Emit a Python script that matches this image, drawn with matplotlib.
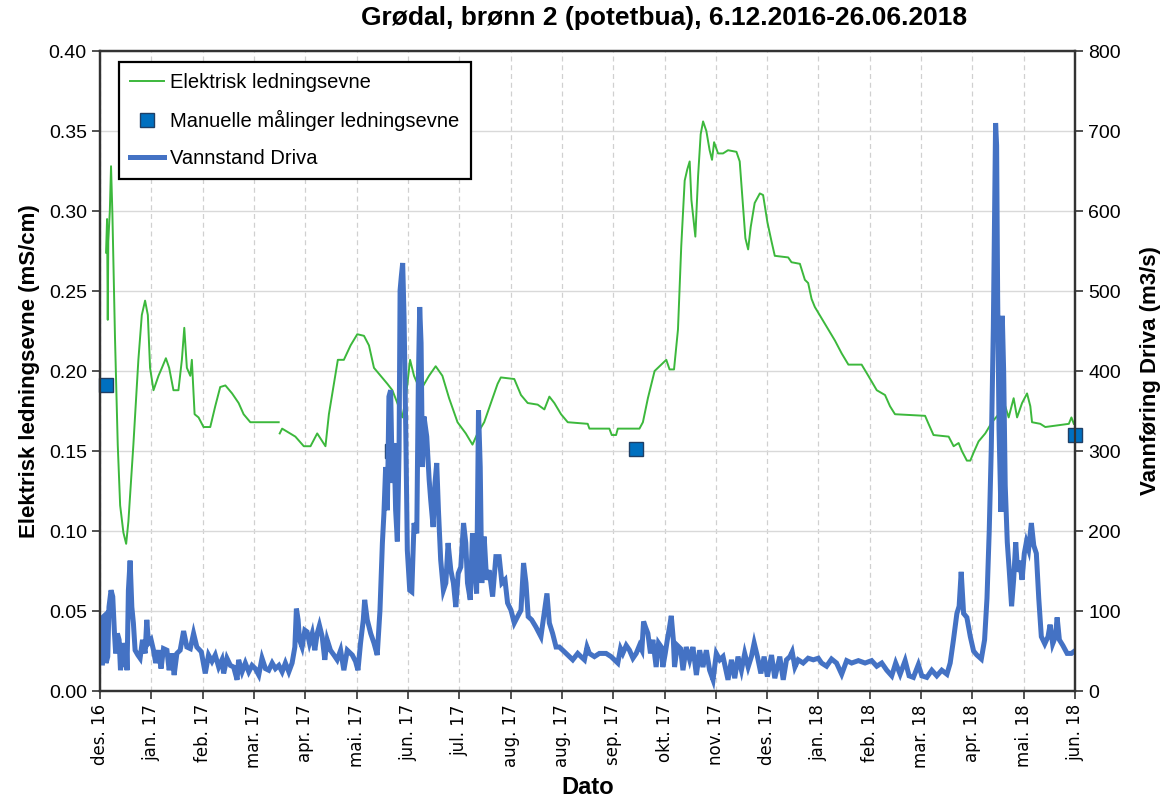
import numpy as np
import pandas as pd
import matplotlib
matplotlib.use("Agg")
import matplotlib.pyplot as plt
from matplotlib.lines import Line2D

# Dager etter 6.12.2016 (lest av figuren)
start = pd.Timestamp("2016-12-06")
slutt_dag = 567  # 26.06.2018

# Elektrisk ledningsevne (mS/cm), NaN = hull i dataserien
ec_dag = [3.5, 4.1, 4.5, 4.8, 5.7, 6.4, 7.2, 8.7, 10.3, 11.7, 13.6, 15.2, 16.5, 19.4, 22.3, 24.3,
          26.2, 27.8, 29.1, 31.1, 34.0, 36.0, 38.3, 40.2, 42.7, 45.6, 47.6, 49.0, 50.5, 52.5, 53.4,
          55.0, 57.3, 60.2, 64.1, 67.0, 69.9, 72.9, 76.8, 80.6, 83.5, 87.4, 103.9, 104.2,
          104.5, 105.9, 113.6, 118.5, 122.4, 126.3, 131.1, 133.1, 136.0, 138.3, 141.8, 145.7,
          149.6, 153.5, 156.4, 159.3, 163.2, 167.1, 170.0, 172.9, 175.8, 177.8, 180.3, 182.6,
          184.6, 187.5, 191.3, 195.2, 199.1, 203.0, 207.9, 212.7, 216.6, 219.5, 223.4, 227.3,
          231.2, 233.1, 240.9, 244.8, 248.7, 254.5, 258.4, 261.3, 264.2, 268.1, 272.0, 283.6,
          284.6, 296.2, 297.6, 300.1, 301.1, 313.7, 315.7, 318.6, 322.5, 326.4, 329.3, 331.2,
          333.8, 336.1, 338.0, 340.0, 341.5, 342.9, 343.9, 346.2, 347.8, 349.3, 350.7, 352.6,
          354.5, 355.9, 357.1, 359.4, 362.3, 365.2, 370.1, 372.0, 374.0, 375.3, 376.9, 378.4,
          380.7, 383.7, 385.6, 388.1, 390.5, 392.4, 400.2, 402.1, 407.0, 409.9, 411.8, 413.8,
          415.7, 419.6, 423.5, 427.4, 431.3, 435.2, 442.9, 446.8, 451.7, 456.5, 459.4, 462.3,
          479.8, 481.8, 484.7, 493.5, 496.4, 499.3, 501.2, 504.1, 506.1, 508.0, 510.9, 514.8,
          518.7, 522.6, 526.4, 528.4, 531.3, 533.3, 536.2, 539.1, 541.0, 542.0, 546.8, 549.7,
          563.4, 564.9, 566.3]
ec_verdi = [0.274, 0.295, 0.232, 0.281, 0.300, 0.328, 0.298, 0.221, 0.154, 0.116, 0.099, 0.092,
            0.106, 0.154, 0.207, 0.235, 0.244, 0.235, 0.202, 0.188, 0.197, 0.202, 0.208, 0.202,
            0.188, 0.188, 0.207, 0.227, 0.202, 0.197, 0.207, 0.173, 0.171, 0.165, 0.165, 0.178,
            0.190, 0.191, 0.186, 0.180, 0.173, 0.168, 0.168, np.nan,
            0.161, 0.164, 0.159, 0.153, 0.153, 0.161, 0.153, 0.173, 0.192, 0.207, 0.207, 0.216,
            0.223, 0.222, 0.216, 0.202, 0.197, 0.192, 0.188, 0.180, 0.171, 0.183, 0.207, 0.197,
            0.192, 0.190, 0.197, 0.203, 0.197, 0.183, 0.168, 0.161, 0.154, 0.161, 0.168, 0.180,
            0.192, 0.196, 0.195, 0.185, 0.180, 0.179, 0.176, 0.184, 0.180, 0.173, 0.168, 0.167,
            0.164, 0.164, 0.160, 0.160, 0.164, 0.164, 0.168, 0.183, 0.200, 0.204, 0.207, 0.201,
            0.201, 0.226, 0.278, 0.319, 0.326, 0.331, 0.307, 0.284, 0.322, 0.348, 0.356, 0.350,
            0.338, 0.332, 0.343, 0.336, 0.336, 0.338, 0.337, 0.331, 0.302, 0.283, 0.276, 0.290,
            0.305, 0.311, 0.310, 0.293, 0.281, 0.272, 0.271, 0.268, 0.267, 0.257, 0.255, 0.245,
            0.240, 0.233, 0.226, 0.219, 0.211, 0.204, 0.204, 0.197, 0.188, 0.185, 0.178, 0.173,
            0.172, 0.167, 0.160, 0.159, 0.153, 0.155, 0.150, 0.144, 0.144, 0.149, 0.156, 0.161,
            0.168, 0.173, 0.178, 0.171, 0.183, 0.171, 0.180, 0.186, 0.178, 0.168, 0.167, 0.165,
            0.167, 0.171, 0.167]

# Manuelle målinger ledningsevne
man_dag = [3.5, 169.6, 311.8, 567.0]
man_verdi = [0.191, 0.150, 0.151, 0.160]

# Vannføring Driva (m3/s)
q_dag = [1.4, 2.0, 3.0, 3.5, 4.5, 5.2, 6.4, 7.4, 8.4, 9.1, 10.1, 11.1, 11.9, 13.0, 14.2, 15.2,
         15.7, 16.5, 17.5, 18.5, 19.4, 20.4, 22.0, 23.3, 24.7, 26.2, 27.2, 28.2, 29.7, 31.1, 32.4,
         34.0, 35.5, 36.9, 38.9, 40.2, 41.8, 43.1, 44.7, 46.6, 48.6, 50.5, 52.5, 54.4, 56.3, 58.9,
         61.2, 63.1, 65.1, 67.0, 69.0, 70.9, 71.9, 73.8, 75.8, 77.7, 79.7, 80.6, 82.6, 84.5, 86.5,
         88.4, 90.3, 92.3, 94.2, 96.2, 98.1, 100.1, 102.0, 104.0, 105.9, 107.8, 109.8, 111.7,
         113.3, 114.2, 115.2, 116.0, 117.5, 119.1, 120.4, 121.8, 123.4, 124.9, 126.3, 127.6,
         129.2, 130.7, 132.1, 134.0, 136.0, 137.9,
         139.9, 141.8, 143.8, 146.7, 148.6, 150.0, 151.5, 153.1, 153.9, 155.4, 157.4, 159.3,
         161.2, 162.8, 164.2, 165.1, 166.1, 167.1, 168.0, 169.0, 170.0, 171.0, 171.9, 172.9,
         173.9, 174.5, 175.2, 176.0, 176.8, 177.8, 178.7, 180.1, 181.3, 182.6, 184.2, 185.1,
         185.9, 186.7, 187.5, 188.4, 190.0, 191.4, 192.3, 193.7, 194.8, 195.8, 196.8, 198.1,
         199.7, 201.1, 202.4, 204.0, 205.5, 206.9, 208.3, 209.8, 211.4, 212.7, 213.7, 215.3,
         216.6, 218.0, 219.0, 220.1, 221.1, 222.0, 223.4, 224.8, 226.3, 228.3, 230.2, 232.1,
         233.7, 235.5, 237.0, 239.0, 240.9, 242.8, 244.8, 246.3, 247.7, 249.0, 251.0, 253.5,
         256.4, 258.8, 259.9, 261.3, 263.2, 265.2, 267.1, 269.1, 272.0, 274.9, 277.8,
         279.7, 281.7, 283.2, 284.6, 287.5, 290.4, 294.3, 297.2, 301.1, 302.7, 304.0, 306.0,
         307.9, 309.9, 311.8, 313.7, 315.1, 316.1, 317.2, 318.6, 320.1, 321.5, 323.4, 324.8,
         326.4, 327.3, 328.7, 329.9, 331.2, 332.2, 333.4, 334.1, 335.7, 337.6, 339.0, 340.9,
         342.9, 344.8, 346.8, 348.7, 350.6, 352.6, 354.5, 356.5, 358.4, 360.4, 362.3, 365.2,
         367.2, 369.1, 371.0, 373.0, 374.9, 376.9, 378.8, 380.4, 382.3, 384.3, 386.2, 388.1,
         390.5, 392.4, 395.3, 397.3, 399.2, 401.2, 402.5, 404.1, 406.0, 408.9, 411.8, 414.8,
         417.7,
         419.6, 422.5, 425.4, 428.3, 431.3, 434.2, 437.1, 441.0, 444.9, 448.7, 451.7, 454.6,
         457.5, 460.4, 462.7, 465.3, 468.2, 470.5, 473.0, 475.9, 477.9, 480.8, 483.7, 486.6,
         489.5, 492.5, 494.4, 496.3, 498.3, 499.6, 500.8, 502.2, 504.1, 506.1, 508.0, 509.9,
         512.5, 514.4, 515.8, 517.1, 518.3, 519.5, 520.2, 520.8, 521.4, 522.0, 522.8, 523.9,
         524.7, 525.5, 526.4, 527.6, 528.8, 530.1, 531.3, 532.5, 533.6, 534.8, 536.2, 537.5,
         538.7, 540.0, 541.6, 543.0, 544.5, 545.9, 547.4, 549.4, 551.3, 552.5, 554.0, 555.6,
         556.6, 557.9, 559.9, 562.4, 564.9, 566.8]
q_verdi = [35, 93, 95, 35, 43, 105, 126, 118, 72, 47, 72, 64, 26, 60, 30, 60,
           26, 126, 163, 105, 85, 51, 45, 41, 64, 47, 89, 60, 64, 51, 35,
           51, 28, 53, 51, 26, 47, 20, 47, 51, 75, 55, 53, 72, 55, 49,
           22, 45, 37, 45, 30, 39, 22, 41, 32, 30, 14, 39, 24, 35, 24,
           32, 28, 20, 41, 28, 26, 35, 28, 32, 24, 35, 24, 35,
           55, 103, 89, 64, 55, 76, 74, 60, 72, 51, 72, 82,
           68, 39, 64, 51, 45, 39,
           51, 26, 51, 45, 37, 26, 60, 89, 114, 89, 72, 60,
           45, 101, 185, 222, 280, 226, 368, 376, 260, 310, 226, 187,
           301, 501, 518, 535, 468, 326, 176, 126, 124, 210, 197, 385,
           480, 435, 280, 343, 318, 264, 239, 205, 260, 285, 226, 164,
           126, 135, 185, 151, 135, 105, 147, 155, 210, 185, 135, 114,
           197, 151, 122, 351, 280, 135, 193, 139, 151, 118, 168, 168,
           135, 139, 110, 101, 85, 93, 101, 160, 135, 93, 89, 80,
           68, 105, 122, 85, 72, 55, 55, 51, 45, 39, 47,
           43, 39, 55, 47, 43, 47, 47, 43, 35, 53, 47, 57,
           51, 41, 47, 57, 51, 87, 80, 72, 47, 64, 30, 60,
           55, 30, 47, 64, 80, 94, 64, 30, 57, 53, 26, 55,
           39, 55, 20, 51, 30, 51, 26, 14, 47, 39, 43, 14,
           39, 16, 43, 26, 47, 30, 43, 60, 43, 22, 43, 18,
           45, 16, 43, 14, 39, 43, 49, 30, 39, 35, 41, 39,
           41,
           35, 31, 40, 35, 21, 38, 35, 38, 35, 38, 31, 35,
           26, 19, 35, 21, 38, 19, 17, 33, 19, 17, 26, 19,
           26, 21, 35, 64, 97, 106, 149, 97, 92, 68, 50, 45,
           40, 64, 116, 200, 304, 455, 587, 710, 682, 493, 328, 224,
           469, 399, 257, 186, 149, 106, 139, 186, 149, 163, 139, 172,
           186, 177, 210, 182, 172, 116, 68, 59, 68, 83, 59, 68,
           92, 64, 57, 47, 47, 50]

maaned = ["jan.", "feb.", "mar.", "apr.", "mai.", "jun.", "jul.", "aug.", "sep.", "okt.", "nov.", "des."]

plt.rcParams["font.family"] = ["Liberation Sans", "DejaVu Sans"]

gronn = "#3cb83c"
blaa = "#4472c4"

fig = plt.figure(figsize=(11.74, 8.01), dpi=100)
ax = fig.add_axes([0.0852, 0.1373, 0.8305, 0.7990])
ax2 = ax.twinx()

ax.plot(ec_dag, ec_verdi, color=gronn, lw=1.4)
ax.plot(man_dag, man_verdi, ls="none", marker="s", ms=10, mfc="#0070c0", mec="#1f3f66",
        mew=1.0, clip_on=False, zorder=5)
ax2.plot(q_dag, q_verdi, color=blaa, lw=3.6, solid_joinstyle="miter")

ax.set_xlim(0, slutt_dag)
ax.set_ylim(0, 0.40)
ax2.set_ylim(0, 800)

# 19 like lange intervaller mellom start og slutt
tick_dag = np.linspace(0, slutt_dag, 20)
tick_lab = []
for d in tick_dag:
    dato = start + pd.Timedelta(days=float(d))
    tick_lab.append(f"{maaned[dato.month - 1]} {dato.year % 100:02d}")
ax.set_xticks(tick_dag)
ax.set_xticklabels(tick_lab, rotation=90, fontsize=12, family=["DejaVu Sans"])

ax.set_yticks(np.arange(0, 0.401, 0.05))
ax.set_yticklabels([f"{v:.2f}" for v in np.arange(0, 0.401, 0.05)], fontsize=14)
ax2.set_yticks(np.arange(0, 801, 100))
ax2.set_yticklabels([str(v) for v in range(0, 801, 100)], fontsize=14)

ax.grid(axis="y", color="#d9d9d9", lw=1.0)
ax.grid(axis="x", color="#d0d0d0", lw=0.9, ls=(0, (4, 3)))
ax.set_axisbelow(True)

for a in (ax, ax2):
    for s in a.spines.values():
        s.set_color("#333333")
        s.set_linewidth(1.6)
    a.tick_params(direction="out", length=6, width=1.2, color="#333333")

ax.set_ylabel("Elektrisk ledningsevne (mS/cm)", fontsize=16, fontweight="bold", labelpad=6)
ax2.set_ylabel("Vannføring Driva (m3/s)", fontsize=16, fontweight="bold", labelpad=14)
ax.set_xlabel("Dato", fontsize=17, fontweight="bold", labelpad=6)
fig.text(0.566, 0.977, "Grødal, brønn 2 (potetbua), 6.12.2016-26.06.2018", fontsize=19,
         fontweight="bold", ha="center", va="center")

handles = [Line2D([], [], color=gronn, lw=1.4),
           Line2D([], [], ls="none", marker="s", ms=10, mfc="#0070c0", mec="#1f3f66"),
           Line2D([], [], color=blaa, lw=3.6)]
labels = ["Elektrisk ledningsevne", "Manuelle målinger ledningsevne", "Vannstand Driva"]
leg = ax2.legend(handles, labels, loc="upper left", bbox_to_anchor=(0.0195, 0.983),
                 fontsize=14.5, frameon=True, fancybox=False, framealpha=1, edgecolor="black",
                 handlelength=1.7, labelspacing=0.9, borderpad=0.55, handletextpad=0.3,
                 borderaxespad=0)
leg.get_frame().set_linewidth(1.6)

fig.savefig("out.png", dpi=100)
